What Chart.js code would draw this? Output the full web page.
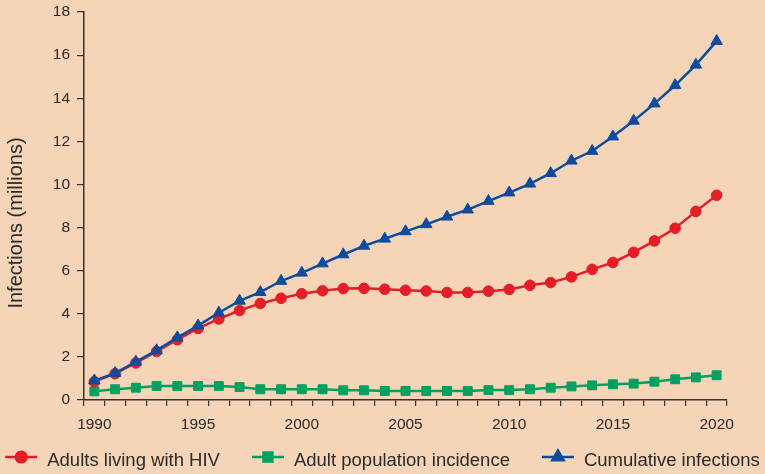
<!DOCTYPE html>
<html lang="en">
<head>
<meta charset="UTF-8">
<title>Adult HIV infections</title>
<script src="https://cdn.jsdelivr.net/npm/chart.js"></script>
<style>
  html, body { margin: 0; padding: 0; background: #f6d4b8; }
  canvas { display: block; }
</style>
</head>
<body>
<canvas id="hivChart" width="765" height="474"></canvas>
<script>
// data (millions)
var years = [1990, 1991, 1992, 1993, 1994, 1995, 1996, 1997, 1998, 1999, 2000,
             2001, 2002, 2003, 2004, 2005, 2006, 2007, 2008, 2009, 2010,
             2011, 2012, 2013, 2014, 2015, 2016, 2017, 2018, 2019, 2020];
var livingWithHiv = [0.85, 1.22, 1.72, 2.25, 2.8, 3.32, 3.76, 4.15, 4.48, 4.72, 4.93,
                     5.07, 5.17, 5.18, 5.14, 5.09, 5.06, 4.99, 4.99, 5.05, 5.13,
                     5.32, 5.45, 5.71, 6.06, 6.38, 6.85, 7.38, 7.97, 8.75, 9.5];
var incidence = [0.4, 0.5, 0.57, 0.65, 0.65, 0.65, 0.65, 0.6, 0.5, 0.5, 0.5,
                 0.5, 0.45, 0.45, 0.42, 0.42, 0.42, 0.42, 0.42, 0.46, 0.46,
                 0.5, 0.57, 0.63, 0.68, 0.73, 0.76, 0.85, 0.96, 1.05, 1.15];
var cumulative = [0.9, 1.25, 1.77, 2.3, 2.9, 3.45, 4.05, 4.6, 5.0, 5.52, 5.9,
                  6.33, 6.75, 7.15, 7.48, 7.82, 8.15, 8.5, 8.83, 9.23, 9.62,
                  10.03, 10.52, 11.1, 11.55, 12.22, 12.95, 13.75, 14.6, 15.55, 16.65];
var seriesNames = ['Adults living with HIV', 'Adult population incidence', 'Cumulative infections'];
var yTicks = [0, 2, 4, 6, 8, 10, 12, 14, 16, 18];
var yTitle = 'Infections (millions)';

var RED = '#e31e26';
var GREEN = '#00a061';
var BLUE = '#0c4c9e';
var TEXT = '#2a2a2a';
var FONT = '"Liberation Sans", Arial, Helvetica, sans-serif';

// page background
var bgPlugin = {
  id: 'bg',
  beforeDraw: function(chart) {
    var c = chart.ctx;
    c.save();
    c.fillStyle = '#f6d4b8';
    c.fillRect(0, 0, chart.width, chart.height);
    c.restore();
  }
};

// rotated y title, sits a bit below the middle like the original
var yTitlePlugin = {
  id: 'yTitle',
  afterDraw: function(chart) {
    var c = chart.ctx;
    c.save();
    c.translate(21.5, 223);
    c.rotate(-Math.PI / 2);
    c.font = '20px ' + FONT;
    c.fillStyle = TEXT;
    c.textAlign = 'center';
    c.textBaseline = 'alphabetic';
    c.fillText(yTitle, 0, 0);
    c.restore();
  }
};

// legend with line + marker, one row across the bottom
var legendPlugin = {
  id: 'lineLegend',
  afterDraw: function(chart) {
    var c = chart.ctx;
    var lineW = 32, textGap = 10, itemGap = 32, cy = 457;
    c.save();
    c.font = '18.5px ' + FONT;
    var items = chart.data.datasets.slice().sort(function(a, b) { return a.legendIndex - b.legendIndex; });
    var widths = items.map(function(ds) { return lineW + textGap + c.measureText(ds.label).width; });
    var total = widths.reduce(function(a, b) { return a + b; }, 0) + itemGap * (items.length - 1);
    var x = (chart.width - total) / 2;
    items.forEach(function(ds, i) {
      c.strokeStyle = ds.borderColor;
      c.fillStyle = ds.borderColor;
      c.lineWidth = 2.5;
      c.beginPath();
      c.moveTo(x, cy);
      c.lineTo(x + lineW, cy);
      c.stroke();
      Chart.helpers.drawPoint(c, {
        pointStyle: ds.pointStyle, radius: ds.pointRadius, borderWidth: 1, rotation: 0
      }, x + lineW / 2, cy);
      c.fillStyle = TEXT;
      c.textBaseline = 'alphabetic';
      c.textAlign = 'left';
      c.fillText(ds.label, x + lineW + textGap, 466);
      x += widths[i] + itemGap;
    });
    c.restore();
  }
};

function series(label, data, color, style, radius, order, legendIndex) {
  return {
    label: label,
    data: data,
    borderColor: color,
    backgroundColor: color,
    pointBackgroundColor: color,
    pointBorderColor: color,
    borderWidth: 2.5,
    pointStyle: style,
    pointRadius: radius,
    pointBorderWidth: 1,
    tension: 0,
    order: order,
    legendIndex: legendIndex
  };
}

new Chart(document.getElementById('hivChart'), {
  type: 'line',
  data: {
    labels: years,
    datasets: [
      series(seriesNames[0], livingWithHiv, RED, 'circle', 5.3, 1, 0),
      series(seriesNames[1], incidence, GREEN, 'rect', 6.3, 2, 1),
      series(seriesNames[2], cumulative, BLUE, 'triangle', 6.6, 0, 2)
    ]
  },
  options: {
    responsive: false,
    animation: false,
    layout: { padding: { left: 0, right: 38, top: 12, bottom: 39 } },
    plugins: {
      legend: { display: false },
      tooltip: { enabled: false }
    },
    scales: {
      x: {
        type: 'category',
        offset: true,
        grid: { display: true, drawOnChartArea: false, drawTicks: true, tickLength: 6, offset: true, color: '#333', lineWidth: 1.2 },
        border: { display: true, color: '#333', width: 1.5 },
        ticks: {
          autoSkip: false, maxRotation: 0, minRotation: 0, padding: 9, color: TEXT,
          font: { family: FONT, size: 15.5 },
          callback: function(v, i) { return years[i] % 5 === 0 ? String(years[i]) : ''; }
        },
        afterFit: function(s) { s.height = 35; s.paddingLeft = 0; s.paddingRight = 0; }
      },
      y: {
        min: yTicks[0],
        max: yTicks[yTicks.length - 1],
        grid: { display: true, drawOnChartArea: false, drawTicks: true, tickLength: 7, color: '#333', lineWidth: 1.2 },
        border: { display: true, color: '#333', width: 1.5 },
        ticks: { stepSize: 2, padding: 7, color: TEXT, font: { family: FONT, size: 15.5 } },
        afterFit: function(s) { s.width = 84; s.paddingTop = 0; s.paddingBottom = 0; }
      }
    }
  },
  plugins: [bgPlugin, yTitlePlugin, legendPlugin]
});
</script>
</body>
</html>
